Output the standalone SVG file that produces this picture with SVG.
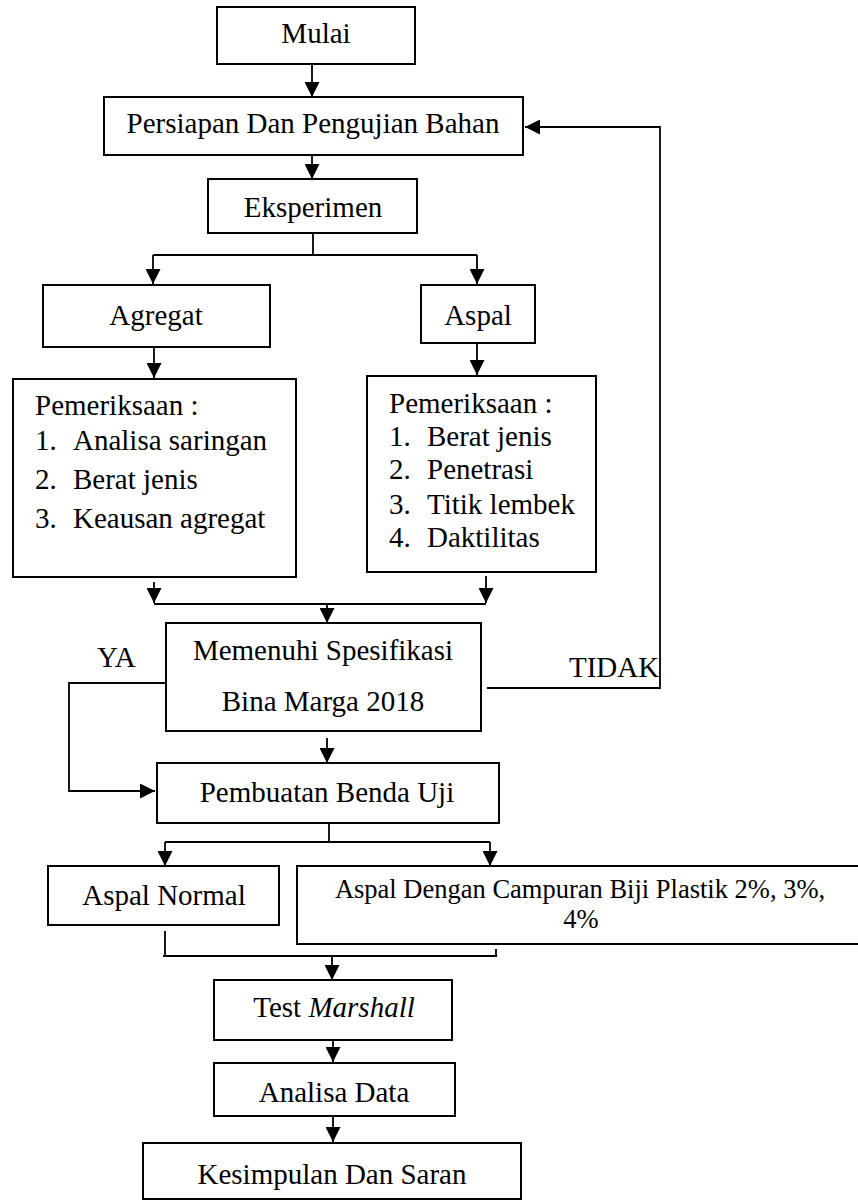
<svg xmlns="http://www.w3.org/2000/svg" width="858" height="1200" viewBox="0 0 858 1200" font-family="Liberation Serif, Times New Roman, serif">
<style>
.box{fill:#fff;stroke:#000;stroke-width:2}
.t{font-family:'Liberation Serif','Times New Roman',serif;font-size:29px;fill:#000}
.c{text-anchor:middle}
.ln{fill:none;stroke:#000;stroke-width:1.8}
.ar{fill:none;stroke:#000;stroke-width:1.8;marker-end:url(#ah)}
</style>
<defs>
<marker id="ah" markerUnits="userSpaceOnUse" markerWidth="15" markerHeight="15" refX="15" refY="7.5" orient="auto">
<path d="M0,0 L15,7.5 L0,15 z" fill="#000"/>
</marker>
</defs>
<rect width="858" height="1200" fill="#fff"/>
<g id="connectors">
<path class="ar" d="M312,64 V97"/>
<path class="ar" d="M312,155 V179"/>
<path class="ln" d="M313,233 V255"/>
<path class="ln" d="M153,255 H477"/>
<path class="ar" d="M153,255 V284"/>
<path class="ar" d="M477,255 V284"/>
<path class="ar" d="M154,343 V378"/>
<path class="ar" d="M477,340 V375"/>
<path class="ar" d="M154,582 V603"/>
<path class="ar" d="M486,576 V603"/>
<path class="ln" d="M154,604 H486"/>
<path class="ar" d="M327,604 V623"/>
<path class="ar" d="M166,683 H69 V791 H155"/>
<path class="ar" d="M487,688 H660 V127 H525"/>
<path class="ar" d="M327,738 V763"/>
<path class="ln" d="M329,819 V842"/>
<path class="ln" d="M165,842 H490"/>
<path class="ar" d="M165,842 V866"/>
<path class="ar" d="M490,842 V866"/>
<path class="ln" d="M165,931 V956"/>
<path class="ln" d="M496,949 V956"/>
<path class="ln" d="M163,956 H497"/>
<path class="ar" d="M332,956 V980"/>
<path class="ar" d="M333,1035 V1062"/>
<path class="ar" d="M333,1112 V1142"/>
</g>
<g id="mulai"><rect class="box" x="217" y="7" width="198" height="57"/><text class="t c" x="316" y="43">Mulai</text></g>
<g id="persiapan"><rect class="box" x="104" y="97" width="419" height="58"/><text class="t c" x="313" y="133">Persiapan Dan Pengujian Bahan</text></g>
<g id="eksperimen"><rect class="box" x="208" y="179" width="209" height="54"/><text class="t c" x="313" y="217">Eksperimen</text></g>
<g id="agregat"><rect class="box" x="43" y="285" width="227" height="62"/><text class="t c" x="156" y="325">Agregat</text></g>
<g id="aspal"><rect class="box" x="421" y="285" width="114" height="58"/><text class="t c" x="478" y="325">Aspal</text></g>
<g id="pemeriksaan-agregat"><rect class="box" x="13" y="379" width="283" height="198"/>
<text class="t" x="35" y="415">Pemeriksaan :</text>
<text class="t" x="35" y="450">1.</text><text class="t" x="73" y="450">Analisa saringan</text>
<text class="t" x="35" y="489">2.</text><text class="t" x="73" y="489">Berat jenis</text>
<text class="t" x="35" y="528">3.</text><text class="t" x="73" y="528">Keausan agregat</text>
</g>
<g id="pemeriksaan-aspal"><rect class="box" x="367" y="376" width="229" height="196"/>
<text class="t" x="389" y="413">Pemeriksaan :</text>
<text class="t" x="389" y="446">1.</text><text class="t" x="427" y="446">Berat jenis</text>
<text class="t" x="389" y="479">2.</text><text class="t" x="427" y="479">Penetrasi</text>
<text class="t" x="389" y="514">3.</text><text class="t" x="427" y="514">Titik lembek</text>
<text class="t" x="389" y="547">4.</text><text class="t" x="427" y="547">Daktilitas</text>
</g>
<g id="spesifikasi"><rect class="box" x="166" y="623" width="315" height="108"/>
<text class="t c" x="323" y="660">Memenuhi Spesifikasi</text>
<text class="t c" x="323" y="711">Bina Marga 2018</text>
</g>
<g id="label-ya"><text class="t" x="97" y="667">YA</text></g>
<g id="label-tidak"><text class="t" x="569" y="677">TIDAK</text></g>
<g id="pembuatan"><rect class="box" x="157" y="763" width="342" height="60"/><text class="t c" x="327" y="802">Pembuatan Benda Uji</text></g>
<g id="aspal-normal"><rect class="box" x="48" y="866" width="231" height="59"/><text class="t c" x="164" y="905">Aspal Normal</text></g>
<g id="aspal-campuran"><rect class="box" x="297" y="866" width="570" height="78"/>
<text class="t c" x="580" y="898" style="font-size:26.5px">Aspal Dengan Campuran Biji Plastik 2%, 3%,</text>
<text class="t c" x="581" y="928" style="font-size:26.5px">4%</text>
</g>
<g id="test-marshall"><rect class="box" x="214" y="980" width="238" height="60"/><text class="t c" x="334" y="1017">Test <tspan font-style="italic">Marshall</tspan></text></g>
<g id="analisa-data"><rect class="box" x="214" y="1063" width="241" height="53"/><text class="t c" x="334" y="1102">Analisa Data</text></g>
<g id="kesimpulan"><rect class="box" x="143" y="1143" width="378" height="56"/><text class="t c" x="332" y="1184">Kesimpulan Dan Saran</text></g>
</svg>
